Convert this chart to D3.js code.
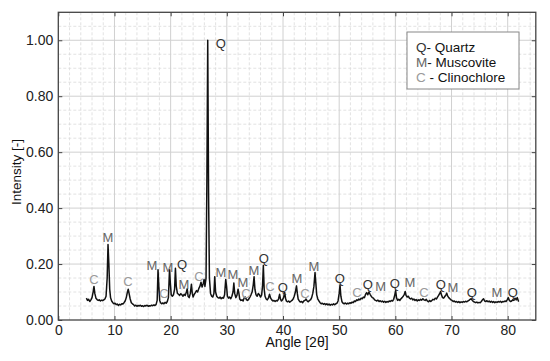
<!DOCTYPE html>
<html>
<head>
<meta charset="utf-8">
<title>XRD pattern</title>
<script src="https://cdn.jsdelivr.net/npm/d3@7"></script>
<style>
body { margin:0; background:#fff; }
svg { display:block; font-family:"Liberation Sans", Arial, sans-serif; }
</style>
</head>
<body>
<script>

// diffraction trace, [angle 2theta, intensity]
var pattern = [
[5.0,0.078],[5.2,0.070],[5.4,0.074],[5.6,0.066],[5.8,0.072],[6.0,0.080],[6.2,0.100],[6.35,0.120],[6.5,0.095],[6.7,0.078],
[6.9,0.073],[7.1,0.070],[7.3,0.072],[7.5,0.068],[7.7,0.071],[7.9,0.069],[8.1,0.072],[8.3,0.075],[8.5,0.085],[8.7,0.150],
[8.85,0.270],[9.0,0.200],[9.15,0.110],[9.3,0.080],[9.5,0.068],[9.7,0.062],[9.9,0.058],[10.1,0.060],[10.3,0.055],[10.5,0.057],
[10.7,0.052],[10.9,0.056],[11.1,0.054],[11.3,0.058],[11.5,0.057],[11.7,0.062],[11.9,0.068],[12.1,0.080],[12.3,0.100],[12.45,0.110],
[12.6,0.095],[12.8,0.075],[13.0,0.062],[13.2,0.058],[13.4,0.055],[13.6,0.050],[13.8,0.053],[14.0,0.049],[14.2,0.052],[14.4,0.050],
[14.6,0.053],[14.8,0.049],[15.0,0.051],[15.2,0.048],[15.4,0.052],[15.6,0.050],[15.8,0.053],[16.0,0.049],[16.2,0.051],[16.4,0.050],
[16.6,0.053],[16.8,0.051],[17.0,0.054],[17.2,0.052],[17.4,0.055],[17.6,0.070],[17.75,0.180],[17.9,0.120],[18.05,0.070],[18.2,0.062],
[18.4,0.058],[18.6,0.061],[18.8,0.058],[19.0,0.063],[19.2,0.060],[19.4,0.066],[19.6,0.080],[19.8,0.180],[19.95,0.130],[20.1,0.090],
[20.3,0.085],[20.5,0.090],[20.7,0.110],[20.85,0.185],[21.0,0.120],[21.2,0.095],[21.4,0.092],[21.6,0.088],[21.8,0.094],[22.0,0.090],
[22.2,0.085],[22.4,0.092],[22.6,0.088],[22.8,0.100],[22.95,0.112],[23.1,0.085],[23.3,0.080],[23.5,0.095],[23.7,0.128],[23.85,0.095],
[24.0,0.082],[24.2,0.092],[24.4,0.098],[24.6,0.105],[24.8,0.100],[25.0,0.112],[25.2,0.120],[25.4,0.135],[25.6,0.118],[25.8,0.130],
[25.95,0.145],[26.1,0.120],[26.3,0.150],[26.45,0.500],[26.6,1.000],[26.75,0.450],[26.9,0.150],[27.1,0.095],[27.3,0.085],[27.5,0.082],
[27.7,0.095],[27.85,0.155],[28.0,0.100],[28.2,0.085],[28.4,0.080],[28.6,0.078],[28.8,0.082],[29.0,0.076],[29.2,0.080],[29.4,0.078],
[29.6,0.090],[29.8,0.145],[29.95,0.120],[30.1,0.085],[30.3,0.078],[30.5,0.082],[30.7,0.076],[30.9,0.085],[31.1,0.100],[31.25,0.132],
[31.4,0.095],[31.6,0.080],[31.8,0.088],[32.0,0.110],[32.15,0.095],[32.3,0.075],[32.5,0.070],[32.7,0.072],[32.9,0.068],[33.1,0.080],
[33.3,0.082],[33.5,0.072],[33.7,0.070],[33.9,0.075],[34.1,0.082],[34.3,0.090],[34.5,0.100],[34.7,0.125],[34.85,0.155],[35.0,0.110],
[35.2,0.090],[35.4,0.085],[35.6,0.095],[35.8,0.090],[36.0,0.082],[36.2,0.090],[36.35,0.120],[36.5,0.195],[36.65,0.110],[36.8,0.085],
[37.0,0.075],[37.2,0.072],[37.4,0.078],[37.6,0.092],[37.8,0.078],[38.0,0.072],[38.2,0.068],[38.4,0.070],[38.6,0.066],[38.8,0.070],
[39.0,0.068],[39.2,0.075],[39.4,0.092],[39.55,0.075],[39.7,0.068],[39.9,0.072],[40.1,0.080],[40.3,0.098],[40.45,0.078],[40.6,0.068],
[40.8,0.065],[41.0,0.068],[41.2,0.064],[41.4,0.067],[41.6,0.070],[41.8,0.075],[42.0,0.085],[42.2,0.100],[42.4,0.122],[42.55,0.095],
[42.7,0.075],[42.9,0.068],[43.1,0.064],[43.3,0.066],[43.5,0.062],[43.7,0.068],[43.9,0.070],[44.1,0.075],[44.3,0.068],[44.5,0.065],
[44.7,0.070],[44.9,0.072],[45.1,0.080],[45.3,0.095],[45.5,0.120],[45.7,0.170],[45.85,0.130],[46.0,0.090],[46.2,0.075],[46.4,0.068],
[46.6,0.062],[46.8,0.058],[47.0,0.060],[47.2,0.056],[47.4,0.059],[47.6,0.055],[47.8,0.058],[48.0,0.054],[48.2,0.057],[48.4,0.053],
[48.6,0.056],[48.8,0.054],[49.0,0.058],[49.2,0.055],[49.4,0.058],[49.6,0.060],[49.8,0.068],[50.0,0.095],[50.15,0.125],[50.3,0.085],
[50.5,0.065],[50.7,0.060],[50.9,0.058],[51.1,0.061],[51.3,0.057],[51.5,0.060],[51.7,0.058],[51.9,0.062],[52.1,0.060],[52.3,0.064],
[52.5,0.062],[52.7,0.068],[52.9,0.066],[53.1,0.072],[53.3,0.070],[53.5,0.075],[53.7,0.072],[53.9,0.078],[54.1,0.076],[54.3,0.082],
[54.5,0.080],[54.7,0.092],[54.9,0.098],[55.1,0.090],[55.3,0.100],[55.5,0.092],[55.7,0.085],[55.9,0.080],[56.1,0.078],[56.3,0.072],
[56.5,0.070],[56.7,0.068],[56.9,0.071],[57.1,0.066],[57.3,0.069],[57.5,0.065],[57.7,0.068],[57.9,0.064],[58.1,0.067],[58.3,0.063],
[58.5,0.066],[58.7,0.064],[58.9,0.068],[59.1,0.066],[59.3,0.070],[59.5,0.068],[59.7,0.074],[59.9,0.090],[60.05,0.105],[60.2,0.080],
[60.4,0.070],[60.6,0.074],[60.8,0.070],[61.0,0.076],[61.2,0.080],[61.4,0.085],[61.6,0.092],[61.75,0.102],[61.9,0.088],[62.1,0.082],
[62.3,0.085],[62.5,0.078],[62.7,0.075],[62.9,0.078],[63.1,0.072],[63.3,0.075],[63.5,0.070],[63.7,0.073],[63.9,0.068],[64.1,0.072],
[64.3,0.070],[64.5,0.074],[64.7,0.071],[64.9,0.076],[65.1,0.072],[65.3,0.070],[65.5,0.074],[65.7,0.068],[65.9,0.065],[66.1,0.070],
[66.3,0.066],[66.5,0.070],[66.7,0.074],[66.9,0.072],[67.1,0.078],[67.3,0.075],[67.5,0.082],[67.7,0.088],[67.9,0.095],[68.05,0.102],
[68.2,0.090],[68.4,0.080],[68.6,0.078],[68.8,0.084],[69.0,0.090],[69.15,0.096],[69.3,0.086],[69.5,0.080],[69.7,0.076],[69.9,0.072],
[70.1,0.070],[70.3,0.066],[70.5,0.068],[70.7,0.064],[70.9,0.066],[71.1,0.063],[71.3,0.066],[71.5,0.062],[71.7,0.065],[71.9,0.063],
[72.1,0.066],[72.3,0.064],[72.5,0.067],[72.7,0.065],[72.9,0.068],[73.1,0.070],[73.3,0.074],[73.5,0.076],[73.7,0.070],[73.9,0.066],
[74.1,0.064],[74.3,0.062],[74.5,0.064],[74.7,0.061],[74.9,0.063],[75.1,0.062],[75.3,0.066],[75.5,0.072],[75.7,0.076],[75.9,0.068],
[76.1,0.066],[76.3,0.069],[76.5,0.065],[76.7,0.068],[76.9,0.064],[77.1,0.067],[77.3,0.063],[77.5,0.066],[77.7,0.062],[77.9,0.065],
[78.1,0.063],[78.3,0.066],[78.5,0.064],[78.7,0.067],[78.9,0.063],[79.1,0.066],[79.3,0.065],[79.5,0.068],[79.7,0.066],[79.9,0.072],
[80.1,0.080],[80.3,0.070],[80.5,0.066],[80.7,0.068],[80.9,0.072],[81.1,0.070],[81.3,0.078],[81.5,0.072],[81.7,0.080],[81.9,0.068],
[82.0,0.066]
];

// peak labels: phase letter, angle, height (label centre)
var peakPhase = ["C","M","C","M","C","M","Q","M","C","Q","M","M","M","C","M","Q","C","Q","M","C","M","Q","C","Q","M","Q","M","C","Q","M","Q","M","Q"];
var peakAngle = [6.35,8.84,12.4,16.67,18.81,19.52,22.01,22.37,25.04,28.95,28.95,31.08,32.86,33.4,34.82,36.6,37.67,39.98,42.47,43.89,45.5,50.13,53.15,55.1,57.4,59.91,62.58,65.08,68.1,70.23,73.61,78.06,80.9];
var peakLevel = [0.146,0.296,0.139,0.196,0.096,0.189,0.2,0.129,0.157,0.989,0.171,0.164,0.136,0.096,0.179,0.221,0.121,0.118,0.15,0.096,0.193,0.15,0.1,0.129,0.121,0.132,0.136,0.1,0.129,0.118,0.1,0.1,0.1];

var phaseNames = ["Quartz","Muscovite","Clinochlore"];
var phaseKeys = ["Q","M","C"];

var xTicks = [0,10,20,30,40,50,60,70,80];
var yTicks = [0,0.2,0.4,0.6,0.8,1.0];

var phaseColor = { Q:"#333", M:"#666", C:"#9a9a9a" };

var W = 550, H = 361;
var L = 58.3, R = 535.8, T = 12.3, B = 320;

var svg = d3.select("body").append("svg")
    .attr("width", W)
    .attr("height", H);

var x = d3.scaleLinear().domain([0,85]).range([L,R]);
var y = d3.scaleLinear().domain([0,1.1]).range([B,T]);

// grid: dashed minor, solid major
var grid = svg.append("g");
grid.selectAll(".xminor").data(d3.range(2,85,2).filter(function(d){ return d % 10 != 0; }))
    .enter().append("line")
    .attr("x1", function(d){ return x(d); }).attr("x2", function(d){ return x(d); })
    .attr("y1", T).attr("y2", B)
    .style("stroke", "#dadada").style("stroke-dasharray", "3,2").style("stroke-width", 0.8);
grid.selectAll(".yminor").data(d3.range(1,22).filter(function(d){ return d % 4 != 0; }))
    .enter().append("line")
    .attr("x1", L).attr("x2", R)
    .attr("y1", function(d){ return y(d*0.05); }).attr("y2", function(d){ return y(d*0.05); })
    .style("stroke", "#dadada").style("stroke-dasharray", "3,2").style("stroke-width", 0.8);
grid.selectAll(".xmajor").data(xTicks.slice(1))
    .enter().append("line")
    .attr("x1", function(d){ return x(d); }).attr("x2", function(d){ return x(d); })
    .attr("y1", T).attr("y2", B)
    .style("stroke", "#d0d0d0").style("stroke-width", 1);
grid.selectAll(".ymajor").data(yTicks.slice(1))
    .enter().append("line")
    .attr("x1", L).attr("x2", R)
    .attr("y1", function(d){ return y(d); }).attr("y2", function(d){ return y(d); })
    .style("stroke", "#d0d0d0").style("stroke-width", 1);

// axes with inward ticks
var xAxis = d3.axisBottom(x).tickValues(xTicks).tickSize(-4).tickPadding(5).tickFormat(d3.format("d"));
var yAxis = d3.axisLeft(y).tickValues(yTicks).tickSize(-4).tickPadding(5).tickFormat(d3.format(".2f"));

var gx = svg.append("g").attr("transform", "translate(0," + B + ")").call(xAxis);
var gy = svg.append("g").attr("transform", "translate(" + L + ",0)").call(yAxis);
svg.append("g").attr("transform", "translate(0," + T + ")")
    .call(d3.axisTop(x).tickValues(xTicks).tickSize(-4).tickFormat(""));
svg.append("g").attr("transform", "translate(" + R + ",0)")
    .call(d3.axisRight(y).tickValues(yTicks).tickSize(-4).tickFormat(""));

svg.selectAll(".domain").remove();
svg.selectAll(".tick line").style("stroke", "#444");
svg.selectAll(".tick text").style("font-size", "14px").style("fill", "#222")
    .style("font-family", "'Liberation Sans', Arial, sans-serif");

svg.append("rect")
    .attr("x", L).attr("y", T).attr("width", R - L).attr("height", B - T)
    .style("fill", "none").style("stroke", "#444").style("stroke-width", 1.3);

// trace
var line = d3.line()
    .x(function(d){ return x(d[0]); })
    .y(function(d){ return y(d[1]); });

svg.append("path")
    .datum(pattern)
    .attr("d", line)
    .style("fill", "none")
    .style("stroke", "#111")
    .style("stroke-width", 1.5)
    .style("stroke-linejoin", "round");

// peak letters
svg.selectAll(".peak").data(peakPhase)
    .enter().append("text")
    .attr("x", function(d, i){ return x(peakAngle[i]); })
    .attr("y", function(d, i){ return y(peakLevel[i]); })
    .attr("dy", "0.36em")
    .attr("text-anchor", "middle")
    .style("font-size", "13px")
    .style("fill", function(d){ return phaseColor[d]; })
    .text(function(d){ return d; });

// legend
var lg = svg.append("g");
lg.append("rect")
    .attr("x", 407).attr("y", 32).attr("width", 112).attr("height", 57)
    .style("fill", "#fff").style("stroke", "#888").style("stroke-width", 1);

var lt = lg.selectAll(".leg").data(phaseKeys)
    .enter().append("text")
    .attr("x", 416)
    .attr("y", function(d, i){ return 52 + i*15; })
    .style("font-size", "13.5px");
lt.append("tspan").style("fill", function(d){ return phaseColor[d]; }).text(function(d){ return d; });
lt.append("tspan").style("fill", "#111")
    .text(function(d, i){ return (d == "C" ? " - " : "- ") + phaseNames[i]; });

// axis titles
svg.append("text")
    .attr("x", (L + R)/2).attr("y", 347)
    .attr("text-anchor", "middle")
    .style("font-size", "14px").style("fill", "#111")
    .text("Angle [2\u03b8]");

svg.append("text")
    .attr("transform", "translate(21,172) rotate(-90)")
    .attr("text-anchor", "middle")
    .style("font-size", "13.5px").style("fill", "#111")
    .text("Intensity [-]");

</script>
</body>
</html>
